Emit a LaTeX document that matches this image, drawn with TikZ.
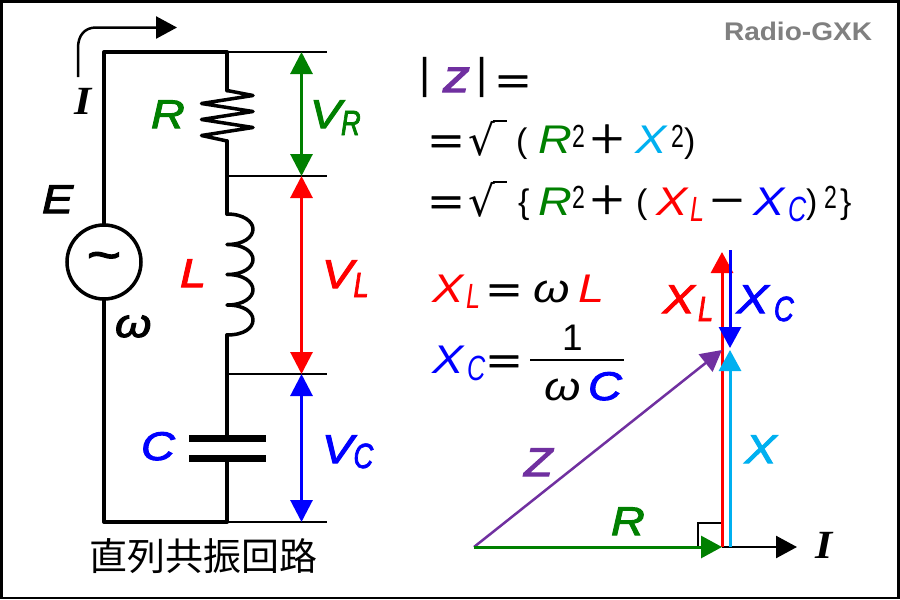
\documentclass[tikz,border=0pt]{standalone}
\usepackage{fontspec}
\setmainfont{Liberation Sans}
\newfontfamily\wideit{Liberation Sans}[FakeStretch=1.17]
\newfontfamily\widebf{Liberation Sans}[FakeStretch=1.17,FakeBold=2.5]
\newfontfamily\narrow{Liberation Sans}[FakeStretch=.72]
\newfontfamily\narrowbf{Liberation Sans}[FakeStretch=.78,FakeBold=2]
\newfontfamily\brandf{Liberation Sans}[FakeStretch=1.1]
\newfontfamily\serifb{Liberation Serif}[FakeStretch=1.1]
\newfontfamily\cjk{Noto Sans CJK JP}
\newfontfamily\cjksym{Noto Sans CJK JP}[FakeBold=1.5]
\newfontfamily\djv{DejaVu Sans}
\usetikzlibrary{arrows.meta}
\definecolor{gxgreen}{RGB}{0,128,0}
\definecolor{gxcyan}{RGB}{0,176,240}
\definecolor{gxpurple}{RGB}{112,48,160}
\tikzset{
  txt/.style={anchor=base west,inner sep=0pt,outer sep=0pt},
  lab/.style={txt,font=\wideit\itshape\fontsize{40}{40}\selectfont},
  labb/.style={txt,font=\widebf\itshape\fontsize{40}{40}\selectfont},
  subl/.style={txt,font=\narrow\itshape\fontsize{35}{35}\selectfont},
  subb/.style={txt,font=\narrowbf\itshape\fontsize{35}{35}\selectfont},
  sup2/.style={txt,font=\narrow\fontsize{32}{32}\selectfont},
  paren/.style={txt,font=\fontsize{34}{34}\selectfont},
  barf/.style={txt,font=\fontsize{43}{43}\selectfont},
  sym/.style={anchor=center,inner sep=0pt,outer sep=0pt,font=\cjksym\fontsize{39}{39}\selectfont},
  rootsign/.style={txt,font=\djv\fontsize{42}{42}\selectfont},
  wire/.style={line width=4pt,line cap=round,line join=round},
  tick/.style={line width=2pt},
  dim/.style={line width=3pt,{Triangle[width=22pt,length=22pt]}-{Triangle[width=22pt,length=22pt]}},
  vec/.style={line width=3pt,-{Triangle[width=22pt,length=21pt]}},
}
\begin{document}
\begin{tikzpicture}[x=1pt,y=-1pt]
\useasboundingbox (0,0) rectangle (900,600);
\draw[fill=white,line width=2.5pt] (1.5,1.5) rectangle (898.5,598);
\node[txt,font=\brandf\bfseries\fontsize{25.5}{25.5}\selectfont,text=black!50] (brand) at (724,40) {Radio-GXK};
% circuit points
\coordinate (tl) at (104,52); \coordinate (tr) at (227,52);
\coordinate (bl) at (104,522); \coordinate (br) at (227,522);
\coordinate (rtop) at (227,90.5); \coordinate (rbot) at (227,141);
\coordinate (j1) at (227,176); \coordinate (ltop) at (227,214);
\coordinate (lbot) at (227,335); \coordinate (j2) at (227,374);
\coordinate (c1) at (227,438); \coordinate (c2) at (227,458);
\coordinate (t1) at (327,52); \coordinate (t2) at (327,176);
\coordinate (t3) at (327,374); \coordinate (t4) at (327,522);
\coordinate (a1) at (301.5,52); \coordinate (a2) at (301.5,176);
\coordinate (a3) at (301.5,374); \coordinate (a4) at (301.5,522);
\node[circle,draw,line width=3.5pt,minimum size=74pt,inner sep=0pt] (src) at (104,262) {};
\node[anchor=center,inner sep=0pt,font=\widebf\fontsize{50}{50}\selectfont] (tilde) at (104,262) {\char"007E};
\draw[wire] (src.south) -- (bl) -- (br) -- (c2);
\draw[wire] (src.north) -- (tl) -- (tr) -- (rtop);
\draw[wire,line width=3.5pt,line cap=butt] (rtop) -- (253,95.5) -- (201.5,103.5) -- (253,111.5) -- (201.5,119.5) -- (253,127.5) -- (201.5,135.5) -- (rbot);
\draw[wire] (rbot) -- (ltop);
\draw[wire,line width=3.5pt] (ltop) .. controls (244,214) and (253,222) .. (253,229) .. controls (253,237) and (244,244.5) .. (227,244.5)
  .. controls (244,244.5) and (253,252) .. (253,259.5) .. controls (253,267) and (244,274.5) .. (227,274.5)
  .. controls (244,274.5) and (253,282) .. (253,290) .. controls (253,297) and (244,305) .. (227,305)
  .. controls (244,305) and (253,312) .. (253,320) .. controls (253,328) and (244,335) .. (lbot);
\draw[wire] (lbot) -- (c1);
\draw[line width=7pt] (189,438) -- (c1) -- (266,438);
\draw[line width=7pt] (189,458) -- (c2) -- (266,458);
\draw[tick] (tr) -- (t1); \draw[tick] (j1) -- (t2); \draw[tick] (j2) -- (t3); \draw[tick] (br) -- (t4);
\draw[dim,gxgreen] (a1) -- (a2);
\draw[dim,red] (a2) -- (a3);
\draw[dim,blue] (a3) -- (a4);
% current arrow
\coordinate (ia) at (78,77); \coordinate (ib) at (177,27.5);
\draw[line width=2.5pt,-{Triangle[width=22pt,length=21pt]}] (ia) -- (78,48) .. controls (78,35) and (85,27.5) .. (96,27.5) -- (ib);
% circuit labels
\node[txt,font=\serifb\itshape\bfseries\fontsize{40}{40}\selectfont] (li) at (74,114) {I};
\node[labb] (le) at (42,213) {E};
\node[labb,gxgreen] (lr) at (151,128) {R};
\node[labb,red] (ll) at (180,287) {L};
\node[labb,blue] (lc) at (141,460) {C};
\node[labb] (lw) at (115,337) {ω};
\node[labb,gxgreen] (vr) at (310,128) {V};
\node[subb,gxgreen] (vrs) at (341,135) {R};
\node[labb,red] (vl) at (322,288) {V};
\node[subb,red] (vls) at (353.5,297) {L};
\node[labb,blue] (vc) at (322,463) {V};
\node[subb,blue] (vcs) at (353.5,468) {C};
\node[anchor=center,inner sep=0pt,font=\cjk\fontsize{38}{38}\selectfont] (title) at (203,556) {直列共振回路};
% formula line 1
\node[barf] (b1) at (419.5,88) {|};
\node[txt,gxpurple,font=\widebf\itshape\fontsize{46}{46}\selectfont] (fz) at (443,92) {z};
\node[barf] (b2) at (476.5,88) {|};
\node[sym] (eq1) at (513,86) {＝};
% formula line 2
\node[sym] (eq2) at (446,146) {＝};
\node[rootsign] (rt2) at (468,155) {√};
\draw[line width=2pt] (rt2.north east) ++(-2,0) -- ++(14,0);
\node[paren] (p2a) at (516,152) {(};
\node[lab,gxgreen] (r2) at (538,153) {R};
\node[sup2] (s2a) at (572,147) {2};
\node[sym] (pl2) at (607,139) {＋};
\node[lab,gxcyan] (x2) at (635,153) {X};
\node[sup2] (s2b) at (671,147) {2};
\node[paren] (p2b) at (684,152) {)};
% formula line 3
\node[sym] (eq3) at (446,207) {＝};
\node[rootsign] (rt3) at (468,216) {√};
\draw[line width=2pt] (rt3.north east) ++(-2,0) -- ++(14,0);
\node[paren] (p3a) at (518,213) {\{};
\node[lab,gxgreen] (r3) at (538,215) {R};
\node[sup2] (s3a) at (572,208) {2};
\node[sym] (pl3) at (607,200) {＋};
\node[paren] (p3b) at (636,213) {(};
\node[lab,red] (x3) at (656,215) {X};
\node[subl,red] (x3s) at (690,221) {L};
\node[sym] (mi3) at (727,207) {－};
\node[lab,blue] (x4) at (753,215) {X};
\node[subl,blue] (x4s) at (788,221) {C};
\node[paren] (p3c) at (806,213) {)};
\node[sup2] (s3b) at (824,208) {2};
\node[paren] (p3d) at (840,213) {\}};
% reactance formulas
\node[lab,red] (xl) at (432,302) {X};
\node[subl,red] (xls) at (466,308) {L};
\node[sym] (eq4) at (504,295) {＝};
\node[lab] (w1) at (533,302) {ω};
\node[lab,red] (l1) at (578,302) {L};
\node[lab,blue] (xc) at (432,373) {X};
\node[subl,blue] (xcs) at (467,380) {C};
\node[sym] (eq5) at (504,366) {＝};
\node[txt,font=\fontsize{37}{37}\selectfont] (one) at (562,350) {1};
\coordinate (fa) at (530,360); \coordinate (fb) at (624,360);
\draw[line width=2pt] (fa) -- (fb);
\node[lab] (w2) at (544,400) {ω};
\node[labb,blue] (c2t) at (588,400) {C};
% phasor diagram
\coordinate (o) at (474,547); \coordinate (p) at (722,547); \coordinate (ix) at (797,547);
\coordinate (q) at (722,350); \coordinate (ltip) at (722,252);
\coordinate (xb) at (730,547); \coordinate (xt) at (730,350);
\coordinate (ct) at (730,250); \coordinate (cb) at (730,348);
\coordinate (ra) at (698,547); \coordinate (rb) at (698,523);
\draw[tick] (ra) -- (rb) -- (722,523);
\draw[vec,line width=2.5pt,black] (p) -- (ix);
\draw[vec,red] (p) -- (ltip);
\draw[vec,gxcyan] (xb) -- (xt);
\draw[vec,blue] (ct) -- (cb);
\draw[vec,line width=2.5pt,gxpurple] (o) -- (q);
\draw[vec,gxgreen] (o) -- (p);
\node[labb,red] (dxl) at (663,313) {X};
\node[subb,red] (dxls) at (698,321) {L};
\node[labb,blue] (dxc) at (737,313) {X};
\node[subb,blue] (dxcs) at (774,321) {C};
\node[labb,gxpurple] (dz) at (524,476) {Z};
\node[labb,gxgreen] (dr) at (611,535) {R};
\node[labb,gxcyan] (dx) at (745,463) {X};
\node[txt,font=\serifb\itshape\bfseries\fontsize{40}{40}\selectfont] (dI) at (815,558) {I};
\end{tikzpicture}
\end{document}
